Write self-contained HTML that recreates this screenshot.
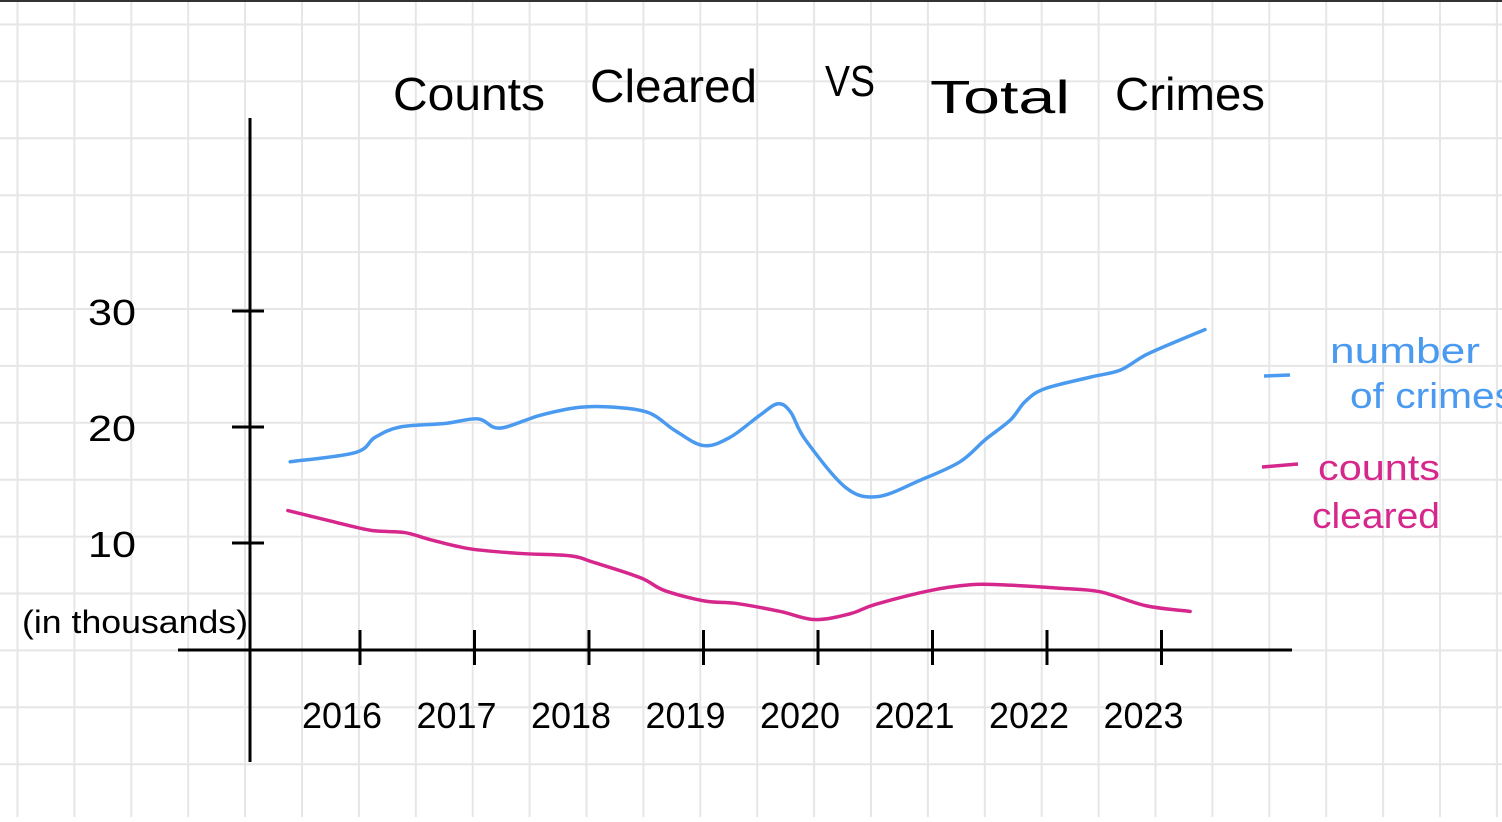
<!DOCTYPE html>
<html><head><meta charset="utf-8"><style>
html,body{margin:0;padding:0;background:#fff;}
body{width:1502px;height:817px;overflow:hidden;}
svg text{font-family:"Liberation Sans","DejaVu Sans",sans-serif;}
</style></head><body>
<svg id="chart" width="1502" height="817" viewBox="0 0 1502 817" xmlns="http://www.w3.org/2000/svg">
<rect x="0" y="0" width="1502" height="817" fill="#fff"/>
<g id="grid"></g>
<rect x="0" y="0" width="1502" height="2" fill="#333"/>
<g>
<text x="393" y="110" font-size="46" textLength="152" lengthAdjust="spacingAndGlyphs">Counts</text>
<text x="590" y="102" font-size="46" textLength="167" lengthAdjust="spacingAndGlyphs">Cleared</text>
<text x="825" y="96" font-size="44" textLength="50" lengthAdjust="spacingAndGlyphs">VS</text>
<text x="930" y="113" font-size="46" textLength="140" lengthAdjust="spacingAndGlyphs">Total</text>
<text x="1115" y="110" font-size="46" textLength="150" lengthAdjust="spacingAndGlyphs">Crimes</text>
</g>
<line x1="250" y1="118" x2="250" y2="762" stroke="#000" stroke-width="3"/>
<line x1="178" y1="650" x2="1292" y2="650" stroke="#000" stroke-width="3"/>
<g id="yticks"></g>
<g id="xticks"></g>
<text x="22" y="633" font-size="32" textLength="226" lengthAdjust="spacingAndGlyphs">(in thousands)</text>
<path id="blue" fill="none" stroke="#4a9af0" stroke-width="3.5" stroke-linecap="round"/>
<path id="pink" fill="none" stroke="#d6288c" stroke-width="3.5" stroke-linecap="round"/>
<g>
<line x1="1264" y1="376" x2="1290" y2="375" stroke="#4a9af0" stroke-width="3.5"/>
<text x="1330" y="363" font-size="36" fill="#4a9af0" textLength="150" lengthAdjust="spacingAndGlyphs">number</text>
<text x="1350" y="408" font-size="36" fill="#4a9af0" textLength="165" lengthAdjust="spacingAndGlyphs">of crimes</text>
<line x1="1262" y1="467" x2="1298" y2="464" stroke="#d6288c" stroke-width="3.5"/>
<text x="1318" y="480" font-size="36" fill="#d6288c" textLength="122" lengthAdjust="spacingAndGlyphs">counts</text>
<text x="1312" y="528" font-size="36" fill="#d6288c" textLength="128" lengthAdjust="spacingAndGlyphs">cleared</text>
</g>
</svg>
<script>
const yTickValues=[10,20,30];
const xTickYears=[2016,2017,2018,2019,2020,2021,2022,2023];
const blueYears=[2015.39,2015.96,2016.13,2016.35,2016.74,2017.03,2017.22,2017.57,2017.92,2018.23,2018.53,2018.75,2019.00,2019.23,2019.49,2019.65,2019.76,2019.89,2020.24,2020.52,2020.89,2021.24,2021.46,2021.68,2021.81,2021.98,2022.38,2022.64,2022.86,2023.16,2023.38];
const blueValues=[17.0,17.8,19.1,20.0,20.3,20.7,19.9,21.0,21.7,21.7,21.2,19.7,18.4,19.1,21.0,22.0,21.3,18.9,14.8,14.0,15.4,17.0,18.9,20.6,22.2,23.3,24.3,24.9,26.2,27.5,28.4];
const pinkYears=[2015.37,2015.74,2016.09,2016.39,2016.61,2016.96,2017.40,2017.83,2018.05,2018.45,2018.66,2019.01,2019.28,2019.67,2019.97,2020.28,2020.50,2020.98,2021.33,2021.59,2022.11,2022.46,2022.86,2023.25];
const pinkValues=[12.8,11.9,11.1,10.9,10.3,9.5,9.1,8.9,8.3,7.0,5.9,5.0,4.8,4.1,3.4,3.9,4.7,5.9,6.4,6.4,6.1,5.8,4.6,4.1];
const NS='http://www.w3.org/2000/svg';
function xs(yr){return 360+(yr-2016)*114.5;}
function ys(v){return 659-v*11.6;}
const grid=document.getElementById('grid');
for(let x=17.5;x<1502;x+=56.9){const l=document.createElementNS(NS,'line');l.setAttribute('x1',x);l.setAttribute('x2',x);l.setAttribute('y1',0);l.setAttribute('y2',817);l.setAttribute('stroke','#e6e6e6');l.setAttribute('stroke-width',2);


grid.appendChild(l);}
for(let y=24.5;y<817;y+=56.9){const l=document.createElementNS(NS,'line');l.setAttribute('y1',y);l.setAttribute('y2',y);l.setAttribute('x1',0);l.setAttribute('x2',1502);l.setAttribute('stroke','#e6e6e6');l.setAttribute('stroke-width',2);


grid.appendChild(l);}
const yt=document.getElementById('yticks');
yTickValues.forEach(v=>{const y=ys(v);
const l=document.createElementNS(NS,'line');l.setAttribute('x1',232);l.setAttribute('x2',264);l.setAttribute('y1',y);l.setAttribute('y2',y);l.setAttribute('stroke','#000');l.setAttribute('stroke-width',3);


yt.appendChild(l);
const t=document.createElementNS(NS,'text');t.setAttribute('x',88);t.setAttribute('y',y+14);t.setAttribute('font-size',36);t.setAttribute('textLength',48);t.setAttribute('lengthAdjust','spacingAndGlyphs');t.textContent=v;


yt.appendChild(t);});
const xt=document.getElementById('xticks');
xTickYears.forEach(yr=>{const x=xs(yr);
const l=document.createElementNS(NS,'line');l.setAttribute('x1',x);l.setAttribute('x2',x);l.setAttribute('y1',630);l.setAttribute('y2',665);l.setAttribute('stroke','#000');l.setAttribute('stroke-width',3);


xt.appendChild(l);
const t=document.createElementNS(NS,'text');t.setAttribute('x',x-18);t.setAttribute('y',728);t.setAttribute('font-size',36);t.setAttribute('text-anchor','middle');t.textContent=yr;


xt.appendChild(t);});
function smooth(pts){let d='M'+pts[0][0]+','+pts[0][1];
for(let i=0;i<pts.length-1;i++){const p0=pts[i-1]||pts[i],p1=pts[i],p2=pts[i+1],p3=pts[i+2]||p2;
d+=' C'+(p1[0]+(p2[0]-p0[0])/6)+','+(p1[1]+(p2[1]-p0[1])/6)+' '+(p2[0]-(p3[0]-p1[0])/6)+','+(p2[1]-(p3[1]-p1[1])/6)+' '+p2[0]+','+p2[1];}
return d;}
document.getElementById('blue').setAttribute('d',smooth(blueYears.map((yr,i)=>[xs(yr),ys(blueValues[i])])));
document.getElementById('pink').setAttribute('d',smooth(pinkYears.map((yr,i)=>[xs(yr),ys(pinkValues[i])])));
</script>
</body></html>
